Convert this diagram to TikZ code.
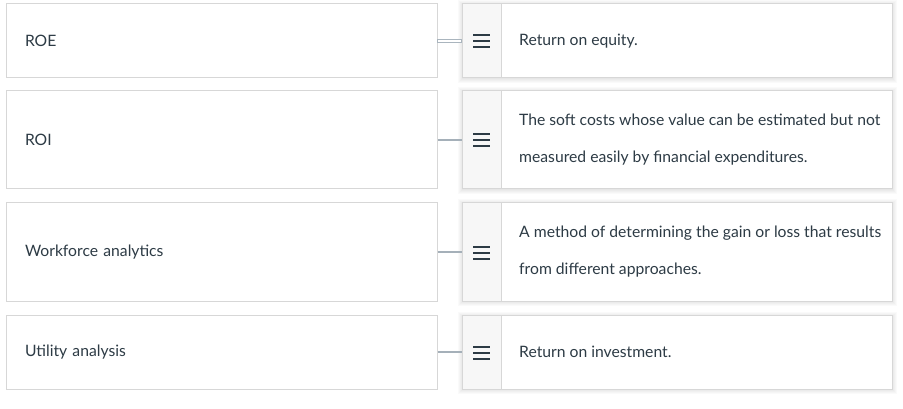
\documentclass[tikz,border=0pt]{standalone}
\usepackage{fontspec}
\setmainfont{Lato}
\usetikzlibrary{calc}
\definecolor{txt}{HTML}{2D3B45}
\definecolor{bord}{HTML}{D7D7D7}
\definecolor{conn}{HTML}{A5B0B9}
\definecolor{connlight}{HTML}{AAB5BE}
\definecolor{handlebg}{HTML}{F7F7F7}
\tikzset{
  base/.style={font=\fontsize{15.7}{37}\selectfont, text=txt},
  leftbox/.style={base, draw=bord, line width=1pt, fill=white, anchor=north west,
    minimum width=431pt, text width=393pt, inner xsep=19pt, inner ysep=0pt,
    align=left, minimum height=#1},
  rightbox/.style={draw=bord, line width=1pt, fill=white, anchor=north west,
    minimum width=430pt, inner sep=0pt, minimum height=#1},
  shadowlayer/.style={fill=black, fill opacity=0.02, draw=none},
  handle/.style={draw=bord, line width=1pt, fill=handlebg, anchor=north west,
    minimum width=39pt, inner sep=0pt, minimum height=#1},
  desc/.style={base, anchor=west, align=left, inner sep=0pt},
  link/.style={draw=conn, line width=2pt},
  linkdouble/.style={draw=connlight, line width=0.8pt, fill=white},
  burgerbar/.style={fill=txt, draw=none},
}
\newcommand{\burgericon}[1]{%
  \foreach \dy in {-6,0,6}{%
    \fill[burgerbar] ($(#1.center)+(-8.5,\dy-1.5)$) rectangle ($(#1.center)+(8.5,\dy+0.5)$);
  }
}
\newcommand{\softshadow}[4]{% x1 y1 x2 y2 (top-left, bottom-right)
  \foreach \k in {1,2,3,4,5}{%
    \fill[shadowlayer] (#1-\k+1,#2+\k-2) rectangle (#3+\k,#4-\k-0.5);
  }
}
\begin{document}
\begin{tikzpicture}[x=1pt,y=1pt]
\useasboundingbox (0,0) rectangle (903,-409);
\fill[white] (0,0) rectangle (903,-409);

% left boxes
\node[leftbox=74pt] (l1) at (5.5,-3.5)   {ROE};
\node[leftbox=98pt] (l2) at (5.5,-90.5)  {ROI};
\node[leftbox=98pt] (l3) at (5.5,-202.5) {Workforce analytics};
\node[leftbox=74pt] (l4) at (5.5,-314.5) {Utility analysis};

% shadows of right boxes
\softshadow{461.5}{-3.5}{891.5}{-77.5}
\softshadow{461.5}{-90.5}{891.5}{-188.5}
\softshadow{461.5}{-202.5}{891.5}{-300.5}
\softshadow{461.5}{-314.5}{891.5}{-388.5}

% right boxes
\node[rightbox=74pt] (r1) at (461.5,-3.5)   {};
\node[rightbox=98pt] (r2) at (461.5,-90.5)  {};
\node[rightbox=98pt] (r3) at (461.5,-202.5) {};
\node[rightbox=74pt] (r4) at (461.5,-314.5) {};

% handles
\node[handle=74pt] (h1) at (461.5,-3.5)   {};
\node[handle=98pt] (h2) at (461.5,-90.5)  {};
\node[handle=98pt] (h3) at (461.5,-202.5) {};
\node[handle=74pt] (h4) at (461.5,-314.5) {};

\burgericon{h1}
\burgericon{h2}
\burgericon{h3}
\burgericon{h4}

% descriptions
\node[desc] (d1) at ([xshift=17.5pt]h1.east) {Return on equity.};
\node[desc] (d2) at ([xshift=17.5pt]h2.east) {The soft costs whose value can be estimated but not\\measured easily by financial expenditures.};
\node[desc] (d3) at ([xshift=17.5pt]h3.east) {A method of determining the gain or loss that results\\from different approaches.};
\node[desc] (d4) at ([xshift=17.5pt]h4.east) {Return on investment.};

% connectors
\draw[linkdouble] ($(l1.east)+(0,1.3)$) rectangle ($(h1.west)+(0,-1.3)$);
\draw[link] (l2.east) -- (h2.west);
\draw[link] (l3.east) -- (h3.west);
\draw[link] (l4.east) -- (h4.west);
\end{tikzpicture}
\end{document}
